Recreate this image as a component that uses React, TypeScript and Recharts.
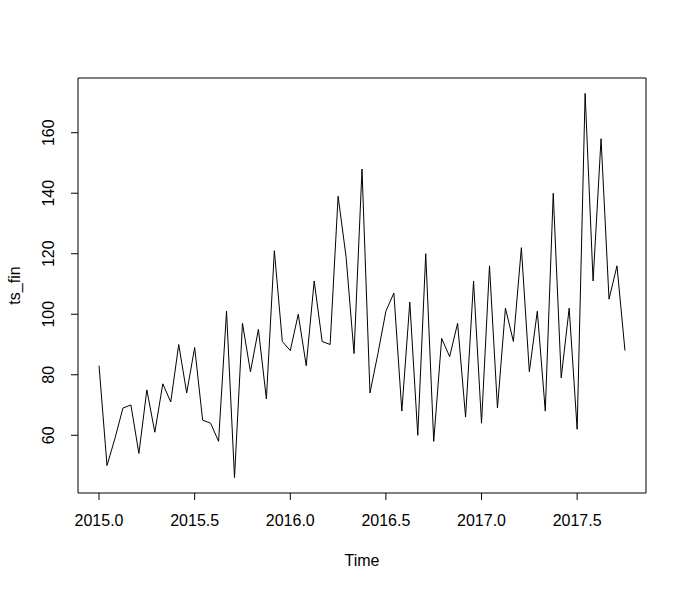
import React from "react";
import { LineChart, Line, XAxis, YAxis, ReferenceArea } from "recharts";

// ts_fin: semi-monthly series (frequency 24) starting 2015.0
const startYear = 2015;
const frequency = 24;
const values = [
  83, 50, 59, 69, 70, 54, 75, 61, 77, 71, 90, 74, 89, 65, 64, 58, 101, 46, 97, 81,
  95, 72, 121, 91, 88, 100, 83, 111, 91, 90, 139, 119, 87, 148, 74, 87, 101, 107, 68, 104,
  60, 120, 58, 92, 86, 97, 66, 111, 64, 116, 69, 102, 91, 122, 81, 101, 68, 140, 79, 102,
  62, 173, 111, 158, 105, 116, 88,
];
const xTicks = [2015.0, 2015.5, 2016.0, 2016.5, 2017.0, 2017.5];
const yTicks = [60, 80, 100, 120, 140, 160];

const data = values.map((v, i) => ({ t: startYear + i / frequency, v }));

// R-style 4% axis extension
const tMin = data[0].t;
const tMax = data[data.length - 1].t;
const vMin = Math.min(...values);
const vMax = Math.max(...values);
const xDomain: [number, number] = [tMin - 0.04 * (tMax - tMin), tMax + 0.04 * (tMax - tMin)];
const yDomain: [number, number] = [vMin - 0.04 * (vMax - vMin), vMax + 0.04 * (vMax - vMin)];

const FONT = "'Liberation Sans', Arial, Helvetica, sans-serif";

const XTick = (props: any) => {
  const { x, y, payload } = props;
  return (
    <text x={x} y={y + 25.5} textAnchor="middle" fontSize={16} fontFamily={FONT} fill="#000">
      {Number(payload.value).toFixed(1)}
    </text>
  );
};

const YTick = (props: any) => {
  const { x, y, payload } = props;
  const tx = x - 17;
  return (
    <text
      x={tx}
      y={y}
      textAnchor="middle"
      fontSize={16}
      fontFamily={FONT}
      fill="#000"
      transform={`rotate(-90, ${tx}, ${y})`}
    >
      {payload.value}
    </text>
  );
};

const XLabel = (props: any) => {
  const vb = props.viewBox;
  return (
    <text x={vb.x + vb.width / 2} y={vb.y + 73} textAnchor="middle" fontSize={16} fontFamily={FONT} fill="#000">
      Time
    </text>
  );
};

const YLabel = (props: any) => {
  const vb = props.viewBox;
  const cx = 20;
  const cy = vb.y + vb.height / 2;
  return (
    <text x={cx} y={cy} textAnchor="middle" fontSize={16} fontFamily={FONT} fill="#000" transform={`rotate(-90, ${cx}, ${cy})`}>
      ts_fin
    </text>
  );
};

export default function App() {
  return (
    <div style={{ position: "absolute", left: 0, top: 0, width: 687, height: 591, background: "#fff" }}>
      <LineChart width={687} height={591} data={data} margin={{ top: 78, right: 41, left: 0, bottom: 0 }}>
        <XAxis
          dataKey="t"
          type="number"
          domain={xDomain}
          allowDataOverflow
          ticks={xTicks}
          interval={0}
          height={98}
          tickSize={7}
          tickMargin={0}
          axisLine={false}
          tickLine={{ stroke: "#000", strokeWidth: 1 }}
          tick={<XTick />}
          label={XLabel}
        />
        <YAxis
          type="number"
          domain={yDomain}
          allowDataOverflow
          ticks={yTicks}
          interval={0}
          width={78}
          tickSize={7}
          tickMargin={0}
          axisLine={false}
          tickLine={{ stroke: "#000", strokeWidth: 1 }}
          tick={<YTick />}
          label={YLabel}
        />
        <ReferenceArea
          x1={xDomain[0]}
          x2={xDomain[1]}
          y1={yDomain[0]}
          y2={yDomain[1]}
          fill="none"
          fillOpacity={0}
          stroke="#000"
          strokeWidth={1}
          strokeOpacity={1}
        />
        <Line
          type="linear"
          dataKey="v"
          stroke="#000"
          strokeWidth={1}
          dot={false}
          activeDot={false}
          isAnimationActive={false}
        />
      </LineChart>
    </div>
  );
}
